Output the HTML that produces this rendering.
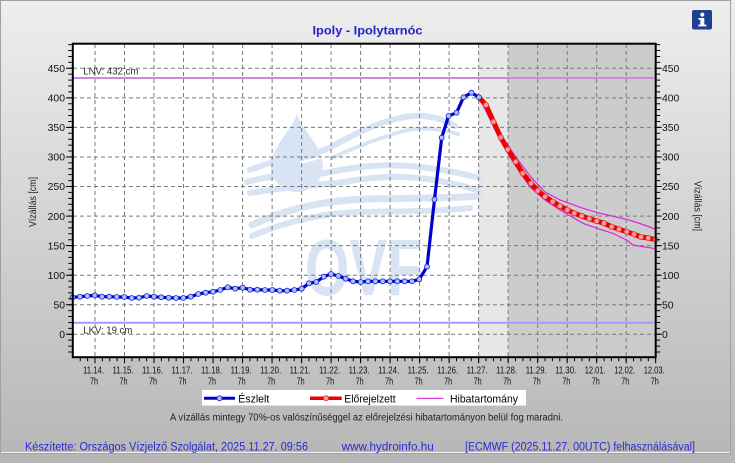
<!DOCTYPE html>
<html><head><meta charset="utf-8"><style>
html,body{margin:0;padding:0;background:#c8c8c8;}
svg{display:block;font-family:"Liberation Sans",Arial,sans-serif;}
</style></head><body>
<svg width="735" height="463" viewBox="0 0 735 463" xmlns="http://www.w3.org/2000/svg">
<defs>
<linearGradient id="bg" x1="0" y1="0" x2="0" y2="1">
<stop offset="0" stop-color="#eeeeee"/><stop offset="1" stop-color="#b6b6b6"/>
</linearGradient>
</defs>
<rect x="0" y="0" width="735" height="463" fill="url(#bg)"/>
<rect x="0.5" y="0.5" width="730" height="453" fill="none" stroke="#a0a0a0" stroke-width="1"/>
<line x1="1" y1="452.5" x2="730" y2="452.5" stroke="#f2f2f2" stroke-width="1"/>

<!-- plot background -->
<rect x="72.8" y="43.7" width="582.9" height="313.5" fill="#ffffff"/>
<rect x="478.6" y="43.7" width="29.5" height="313.5" fill="#e7e7e7"/>
<rect x="508.1" y="43.7" width="147.6" height="313.5" fill="#cccccc"/>

<!-- watermark -->
<path d="M297 113 C 300 128 322 145 323 166 A 26 26 0 0 1 271 166 C 272 145 294 128 297 113 Z" fill="#d8e4f3"/>
<g fill="none" stroke="#d8e4f3" stroke-linecap="round">
<path d="M250 170 C 285 156, 300 158, 325 150 C 345 140, 360 130, 385 122 S 430 112, 455 126" stroke-width="6"/>
<path d="M332 158 C 360 145, 380 138, 400 132 S 435 128, 458 134" stroke-width="4"/>
<path d="M247 182 C 280 172, 300 178, 330 172 S 400 158, 480 178" stroke-width="6"/>
<path d="M250 193 C 290 186, 320 186, 350 181 S 420 172, 480 191" stroke-width="6"/>
<path d="M252 225 C 280 212, 310 203, 350 200 S 420 200, 480 196" stroke-width="7"/>
<path d="M252 236 C 285 222, 320 213, 360 212 S 430 212, 470 208" stroke-width="6"/>
</g>
<path d="M300 163 C 310 160, 318 158, 326 156" stroke="#ffffff" stroke-width="2.5" fill="none"/>
<text x="305" y="295" font-size="80" font-weight="bold" fill="#d8e4f3" textLength="117" lengthAdjust="spacingAndGlyphs">OVF</text>

<!-- grid -->
<g stroke="#7a7a7a" stroke-width="1" stroke-dasharray="4 3">
<line x1="95.0" y1="44" x2="95.0" y2="357"/>
<line x1="124.5" y1="44" x2="124.5" y2="357"/>
<line x1="154.0" y1="44" x2="154.0" y2="357"/>
<line x1="183.5" y1="44" x2="183.5" y2="357"/>
<line x1="213.0" y1="44" x2="213.0" y2="357"/>
<line x1="242.6" y1="44" x2="242.6" y2="357"/>
<line x1="272.1" y1="44" x2="272.1" y2="357"/>
<line x1="301.6" y1="44" x2="301.6" y2="357"/>
<line x1="331.1" y1="44" x2="331.1" y2="357"/>
<line x1="360.6" y1="44" x2="360.6" y2="357"/>
<line x1="390.1" y1="44" x2="390.1" y2="357"/>
<line x1="419.6" y1="44" x2="419.6" y2="357"/>
<line x1="449.1" y1="44" x2="449.1" y2="357"/>
<line x1="478.6" y1="44" x2="478.6" y2="357"/>
<line x1="508.1" y1="44" x2="508.1" y2="357"/>
<line x1="537.7" y1="44" x2="537.7" y2="357"/>
<line x1="567.2" y1="44" x2="567.2" y2="357"/>
<line x1="596.7" y1="44" x2="596.7" y2="357"/>
<line x1="626.2" y1="44" x2="626.2" y2="357"/>
<line x1="73" y1="334.3" x2="655" y2="334.3"/>
<line x1="73" y1="304.7" x2="655" y2="304.7"/>
<line x1="73" y1="275.2" x2="655" y2="275.2"/>
<line x1="73" y1="245.6" x2="655" y2="245.6"/>
<line x1="73" y1="216.1" x2="655" y2="216.1"/>
<line x1="73" y1="186.5" x2="655" y2="186.5"/>
<line x1="73" y1="157.0" x2="655" y2="157.0"/>
<line x1="73" y1="127.4" x2="655" y2="127.4"/>
<line x1="73" y1="97.9" x2="655" y2="97.9"/>
<line x1="73" y1="68.3" x2="655" y2="68.3"/>
</g>

<!-- LNV / LKV -->
<line x1="73" y1="78" x2="655" y2="78" stroke="#cc88dd" stroke-width="2"/>
<line x1="73" y1="322.8" x2="655" y2="322.8" stroke="#9d9dff" stroke-width="2"/>
<text x="83.3" y="74.5" font-size="10" fill="#333" textLength="55" lengthAdjust="spacingAndGlyphs">LNV: 432 cm</text>
<text x="83.3" y="333.3" font-size="10" fill="#333" textLength="49" lengthAdjust="spacingAndGlyphs">LKV: 19 cm</text>

<!-- error band -->
<polyline fill="none" stroke="#dd22dd" stroke-width="1.2" points="479,97 500,133 515,156 530,176 545,192 560,200 583,208.3 600,213.3 612,216 626.7,219.3 640,223.5 655.7,229.3"/>
<polyline fill="none" stroke="#dd22dd" stroke-width="1.2" points="479,97 500,140 515,165 530,187 545,200 560,210 583,223.3 600,229.3 612,233 626.7,240 633,245 645,247 655.7,248.7"/>

<!-- forecast -->
<polyline fill="none" stroke="#ee0000" stroke-width="5" stroke-linejoin="round" points="479,97.3 486,105 493.5,121.7 500.7,137.3 507.7,149.5 515.7,161.7 522.7,173.3 531,183.3 537.7,190.7 545,196.7 552.7,201.7 560,206 567.3,210 574.3,213.3 581.7,216 589.3,218.7 596.7,221 604,223.3 611.7,226.7 619,229.3 626.7,231.7 634,234.3 641,237 648.3,238 655.7,239.7"/>
<g fill="#ff9e9e" stroke="#e03030" stroke-width="0.8">
<circle cx="486" cy="105" r="2.6"/><circle cx="493.5" cy="121.7" r="2.6"/><circle cx="500.7" cy="137.3" r="2.6"/><circle cx="507.7" cy="149.5" r="2.6"/><circle cx="515.7" cy="161.7" r="2.6"/><circle cx="522.7" cy="173.3" r="2.6"/><circle cx="531" cy="183.3" r="2.6"/><circle cx="537.7" cy="190.7" r="2.6"/><circle cx="545" cy="196.7" r="2.6"/><circle cx="552.7" cy="201.7" r="2.6"/><circle cx="560" cy="206" r="2.6"/><circle cx="567.3" cy="210" r="2.6"/><circle cx="574.3" cy="213.3" r="2.6"/><circle cx="581.7" cy="216" r="2.6"/><circle cx="589.3" cy="218.7" r="2.6"/><circle cx="596.7" cy="221" r="2.6"/><circle cx="604" cy="223.3" r="2.6"/><circle cx="611.7" cy="226.7" r="2.6"/><circle cx="619" cy="229.3" r="2.6"/><circle cx="626.7" cy="231.7" r="2.6"/><circle cx="634" cy="234.3" r="2.6"/><circle cx="641" cy="237" r="2.6"/><circle cx="648.3" cy="238" r="2.6"/><circle cx="655.7" cy="239.7" r="2.6"/>
</g>

<!-- observed -->
<polyline fill="none" stroke="#0000cc" stroke-width="3.2" stroke-linejoin="round" points="72.7,297.3 80,296.7 87.3,296 94.7,295.3 102,296.7 109.3,296.7 116.7,297 124.3,297 131.7,298 139,297.7 146.7,296 154,296.7 161.3,297.3 168.7,297.7 176,298 183.3,298 190.7,296.7 198.3,294 205.7,292.7 213,291.7 220.3,290 227.7,287.3 235.3,288.7 242.7,287.7 250,289.7 257.3,289.7 265,290 272.3,290 279.7,290.7 287,290.7 294.3,290 301.7,288.7 309,283.3 316.3,282 323.7,276.7 331,274 338.3,276 345.7,278.7 353,281.3 360.7,282 368,281.3 375.3,281.3 382.7,281.3 390,281.3 397.3,281.3 404.7,281.3 412,281.3 419.3,279.3 427,266.7 434.5,199.5 441.7,137.7 448.5,116 456.5,112.7 463.5,97.3 471.5,92.7 479,97.3"/>
<g fill="#a8c4ff" stroke="#2020cc" stroke-width="0.8">
<circle cx="72.7" cy="297.3" r="2.5"/><circle cx="80" cy="296.7" r="2.5"/><circle cx="87.3" cy="296" r="2.5"/><circle cx="94.7" cy="295.3" r="2.5"/><circle cx="102" cy="296.7" r="2.5"/><circle cx="109.3" cy="296.7" r="2.5"/><circle cx="116.7" cy="297" r="2.5"/><circle cx="124.3" cy="297" r="2.5"/><circle cx="131.7" cy="298" r="2.5"/><circle cx="139" cy="297.7" r="2.5"/><circle cx="146.7" cy="296" r="2.5"/><circle cx="154" cy="296.7" r="2.5"/><circle cx="161.3" cy="297.3" r="2.5"/><circle cx="168.7" cy="297.7" r="2.5"/><circle cx="176" cy="298" r="2.5"/><circle cx="183.3" cy="298" r="2.5"/><circle cx="190.7" cy="296.7" r="2.5"/><circle cx="198.3" cy="294" r="2.5"/><circle cx="205.7" cy="292.7" r="2.5"/><circle cx="213" cy="291.7" r="2.5"/><circle cx="220.3" cy="290" r="2.5"/><circle cx="227.7" cy="287.3" r="2.5"/><circle cx="235.3" cy="288.7" r="2.5"/><circle cx="242.7" cy="287.7" r="2.5"/><circle cx="250" cy="289.7" r="2.5"/><circle cx="257.3" cy="289.7" r="2.5"/><circle cx="265" cy="290" r="2.5"/><circle cx="272.3" cy="290" r="2.5"/><circle cx="279.7" cy="290.7" r="2.5"/><circle cx="287" cy="290.7" r="2.5"/><circle cx="294.3" cy="290" r="2.5"/><circle cx="301.7" cy="288.7" r="2.5"/><circle cx="309" cy="283.3" r="2.5"/><circle cx="316.3" cy="282" r="2.5"/><circle cx="323.7" cy="276.7" r="2.5"/><circle cx="331" cy="274" r="2.5"/><circle cx="338.3" cy="276" r="2.5"/><circle cx="345.7" cy="278.7" r="2.5"/><circle cx="353" cy="281.3" r="2.5"/><circle cx="360.7" cy="282" r="2.5"/><circle cx="368" cy="281.3" r="2.5"/><circle cx="375.3" cy="281.3" r="2.5"/><circle cx="382.7" cy="281.3" r="2.5"/><circle cx="390" cy="281.3" r="2.5"/><circle cx="397.3" cy="281.3" r="2.5"/><circle cx="404.7" cy="281.3" r="2.5"/><circle cx="412" cy="281.3" r="2.5"/><circle cx="419.3" cy="279.3" r="2.5"/><circle cx="427" cy="266.7" r="2.5"/><circle cx="434.5" cy="199.5" r="2.5"/><circle cx="441.7" cy="137.7" r="2.5"/><circle cx="448.5" cy="116" r="2.5"/><circle cx="456.5" cy="112.7" r="2.5"/><circle cx="463.5" cy="97.3" r="2.5"/><circle cx="471.5" cy="92.7" r="2.5"/><circle cx="479" cy="97.3" r="2.5"/>
</g>

<!-- frame -->
<rect x="72.8" y="43.7" width="582.9" height="313.5" fill="none" stroke="#000" stroke-width="2"/>

<!-- ticks -->
<g stroke="#000" fill="none">
<line x1="70" y1="352.5" x2="70" y2="44" stroke-width="3.5" stroke-dasharray="1 4.911"/>
<line x1="69" y1="334.8" x2="69" y2="44" stroke-width="6" stroke-dasharray="1 28.555"/>
<line x1="658.4" y1="352.5" x2="658.4" y2="44" stroke-width="3.5" stroke-dasharray="1 4.911"/>
<line x1="659.2" y1="334.8" x2="659.2" y2="44" stroke-width="5" stroke-dasharray="1 28.555"/>
<line x1="79.745" y1="359.5" x2="656" y2="359.5" stroke-width="3.5" stroke-dasharray="1 6.3775"/>
<line x1="94.5" y1="360.5" x2="657" y2="360.5" stroke-width="5.5" stroke-dasharray="1 28.51"/>
</g>

<!-- y labels -->
<g font-size="10.4" fill="#111" text-anchor="end">
<text x="65" y="72">450</text><text x="65" y="101.6">400</text><text x="65" y="131.1">350</text><text x="65" y="160.7">300</text><text x="65" y="190.2">250</text><text x="65" y="219.8">200</text><text x="65" y="249.3">150</text><text x="65" y="278.9">100</text><text x="65" y="308.4">50</text><text x="65" y="338">0</text>
</g>
<g font-size="10.4" fill="#111" text-anchor="start">
<text x="662" y="72">450</text><text x="662" y="101.6">400</text><text x="662" y="131.1">350</text><text x="662" y="160.7">300</text><text x="662" y="190.2">250</text><text x="662" y="219.8">200</text><text x="662" y="249.3">150</text><text x="662" y="278.9">100</text><text x="662" y="308.4">50</text><text x="662" y="338">0</text>
</g>

<!-- x labels -->
<g font-size="10" fill="#111" text-anchor="middle">
<text x="93.5" y="373.3" textLength="21" lengthAdjust="spacingAndGlyphs">11.14.</text>
<text x="123" y="373.3" textLength="21" lengthAdjust="spacingAndGlyphs">11.15.</text>
<text x="152.5" y="373.3" textLength="21" lengthAdjust="spacingAndGlyphs">11.16.</text>
<text x="182" y="373.3" textLength="21" lengthAdjust="spacingAndGlyphs">11.17.</text>
<text x="211.5" y="373.3" textLength="21" lengthAdjust="spacingAndGlyphs">11.18.</text>
<text x="241.1" y="373.3" textLength="21" lengthAdjust="spacingAndGlyphs">11.19.</text>
<text x="270.6" y="373.3" textLength="21" lengthAdjust="spacingAndGlyphs">11.20.</text>
<text x="300.1" y="373.3" textLength="21" lengthAdjust="spacingAndGlyphs">11.21.</text>
<text x="329.6" y="373.3" textLength="21" lengthAdjust="spacingAndGlyphs">11.22.</text>
<text x="359.1" y="373.3" textLength="21" lengthAdjust="spacingAndGlyphs">11.23.</text>
<text x="388.6" y="373.3" textLength="21" lengthAdjust="spacingAndGlyphs">11.24.</text>
<text x="418.1" y="373.3" textLength="21" lengthAdjust="spacingAndGlyphs">11.25.</text>
<text x="447.6" y="373.3" textLength="21" lengthAdjust="spacingAndGlyphs">11.26.</text>
<text x="477.1" y="373.3" textLength="21" lengthAdjust="spacingAndGlyphs">11.27.</text>
<text x="506.6" y="373.3" textLength="21" lengthAdjust="spacingAndGlyphs">11.28.</text>
<text x="536.2" y="373.3" textLength="21" lengthAdjust="spacingAndGlyphs">11.29.</text>
<text x="565.7" y="373.3" textLength="21" lengthAdjust="spacingAndGlyphs">11.30.</text>
<text x="595.2" y="373.3" textLength="21" lengthAdjust="spacingAndGlyphs">12.01.</text>
<text x="624.7" y="373.3" textLength="21" lengthAdjust="spacingAndGlyphs">12.02.</text>
<text x="654.2" y="373.3" textLength="21" lengthAdjust="spacingAndGlyphs">12.03.</text>
</g>
<g font-size="10" fill="#111" text-anchor="middle">
<text x="94" y="384.7" textLength="8" lengthAdjust="spacingAndGlyphs">7h</text>
<text x="123.5" y="384.7" textLength="8" lengthAdjust="spacingAndGlyphs">7h</text>
<text x="153" y="384.7" textLength="8" lengthAdjust="spacingAndGlyphs">7h</text>
<text x="182.5" y="384.7" textLength="8" lengthAdjust="spacingAndGlyphs">7h</text>
<text x="212" y="384.7" textLength="8" lengthAdjust="spacingAndGlyphs">7h</text>
<text x="241.6" y="384.7" textLength="8" lengthAdjust="spacingAndGlyphs">7h</text>
<text x="271.1" y="384.7" textLength="8" lengthAdjust="spacingAndGlyphs">7h</text>
<text x="300.6" y="384.7" textLength="8" lengthAdjust="spacingAndGlyphs">7h</text>
<text x="330.1" y="384.7" textLength="8" lengthAdjust="spacingAndGlyphs">7h</text>
<text x="359.6" y="384.7" textLength="8" lengthAdjust="spacingAndGlyphs">7h</text>
<text x="389.1" y="384.7" textLength="8" lengthAdjust="spacingAndGlyphs">7h</text>
<text x="418.6" y="384.7" textLength="8" lengthAdjust="spacingAndGlyphs">7h</text>
<text x="448.1" y="384.7" textLength="8" lengthAdjust="spacingAndGlyphs">7h</text>
<text x="477.6" y="384.7" textLength="8" lengthAdjust="spacingAndGlyphs">7h</text>
<text x="507.1" y="384.7" textLength="8" lengthAdjust="spacingAndGlyphs">7h</text>
<text x="536.7" y="384.7" textLength="8" lengthAdjust="spacingAndGlyphs">7h</text>
<text x="566.2" y="384.7" textLength="8" lengthAdjust="spacingAndGlyphs">7h</text>
<text x="595.7" y="384.7" textLength="8" lengthAdjust="spacingAndGlyphs">7h</text>
<text x="625.2" y="384.7" textLength="8" lengthAdjust="spacingAndGlyphs">7h</text>
<text x="654.7" y="384.7" textLength="8" lengthAdjust="spacingAndGlyphs">7h</text>
</g>

<!-- axis titles -->
<text transform="translate(36,202) rotate(-90)" font-size="10.5" fill="#222" text-anchor="middle" textLength="50" lengthAdjust="spacingAndGlyphs">Vízállás [cm]</text>
<text transform="translate(694.5,206) rotate(90)" font-size="10.5" fill="#222" text-anchor="middle" textLength="50" lengthAdjust="spacingAndGlyphs">Vízállás [cm]</text>

<!-- title -->
<text x="367.5" y="34.5" font-size="12" font-weight="bold" fill="#2222cc" text-anchor="middle" textLength="110" lengthAdjust="spacingAndGlyphs">Ipoly - Ipolytarnóc</text>

<!-- info icon -->
<rect x="692" y="10" width="20" height="19.5" rx="2" fill="#1f3f93"/>
<circle cx="702.3" cy="14.6" r="2" fill="#fff"/>
<rect x="700.3" y="18" width="4" height="8" fill="#fff"/>
<rect x="698.3" y="18" width="3" height="1.6" fill="#fff"/>
<rect x="698.3" y="24.6" width="8" height="1.8" fill="#fff"/>

<!-- legend -->
<rect x="202" y="390" width="324" height="15.5" fill="#ffffff"/>
<line x1="204" y1="398.3" x2="235" y2="398.3" stroke="#0000cc" stroke-width="3"/>
<circle cx="219.5" cy="398.3" r="2.5" fill="#a8c4ff" stroke="#2020cc" stroke-width="0.8"/>
<text x="238.3" y="402.5" font-size="11" fill="#000" textLength="31" lengthAdjust="spacingAndGlyphs">Észlelt</text>
<line x1="310" y1="398.3" x2="341.7" y2="398.3" stroke="#ee0000" stroke-width="3.5"/>
<circle cx="326" cy="398.3" r="2.6" fill="#ff9e9e" stroke="#e03030" stroke-width="0.8"/>
<text x="344.3" y="402.5" font-size="11" fill="#000" textLength="51.4" lengthAdjust="spacingAndGlyphs">Előrejelzett</text>
<line x1="416.7" y1="398.3" x2="443.3" y2="398.3" stroke="#dd22dd" stroke-width="1.2"/>
<text x="450" y="402.5" font-size="11" fill="#000" textLength="68" lengthAdjust="spacingAndGlyphs">Hibatartomány</text>

<!-- note -->
<text x="170" y="420.3" font-size="10" fill="#222" textLength="393" lengthAdjust="spacingAndGlyphs">A vízállás mintegy 70%-os valószínűséggel az előrejelzési hibatartományon belül fog maradni.</text>

<!-- footer -->
<g font-size="11.5" fill="#2a2ad0">
<text x="25" y="450.5" textLength="283" lengthAdjust="spacingAndGlyphs">Készítette: Országos Vízjelző Szolgálat, 2025.11.27. 09:56</text>
<text x="341.7" y="450.5" textLength="92" lengthAdjust="spacingAndGlyphs">www.hydroinfo.hu</text>
<text x="465" y="450.5" textLength="230" lengthAdjust="spacingAndGlyphs">[ECMWF (2025.11.27. 00UTC) felhasználásával]</text>
</g>
</svg>
</body></html>
